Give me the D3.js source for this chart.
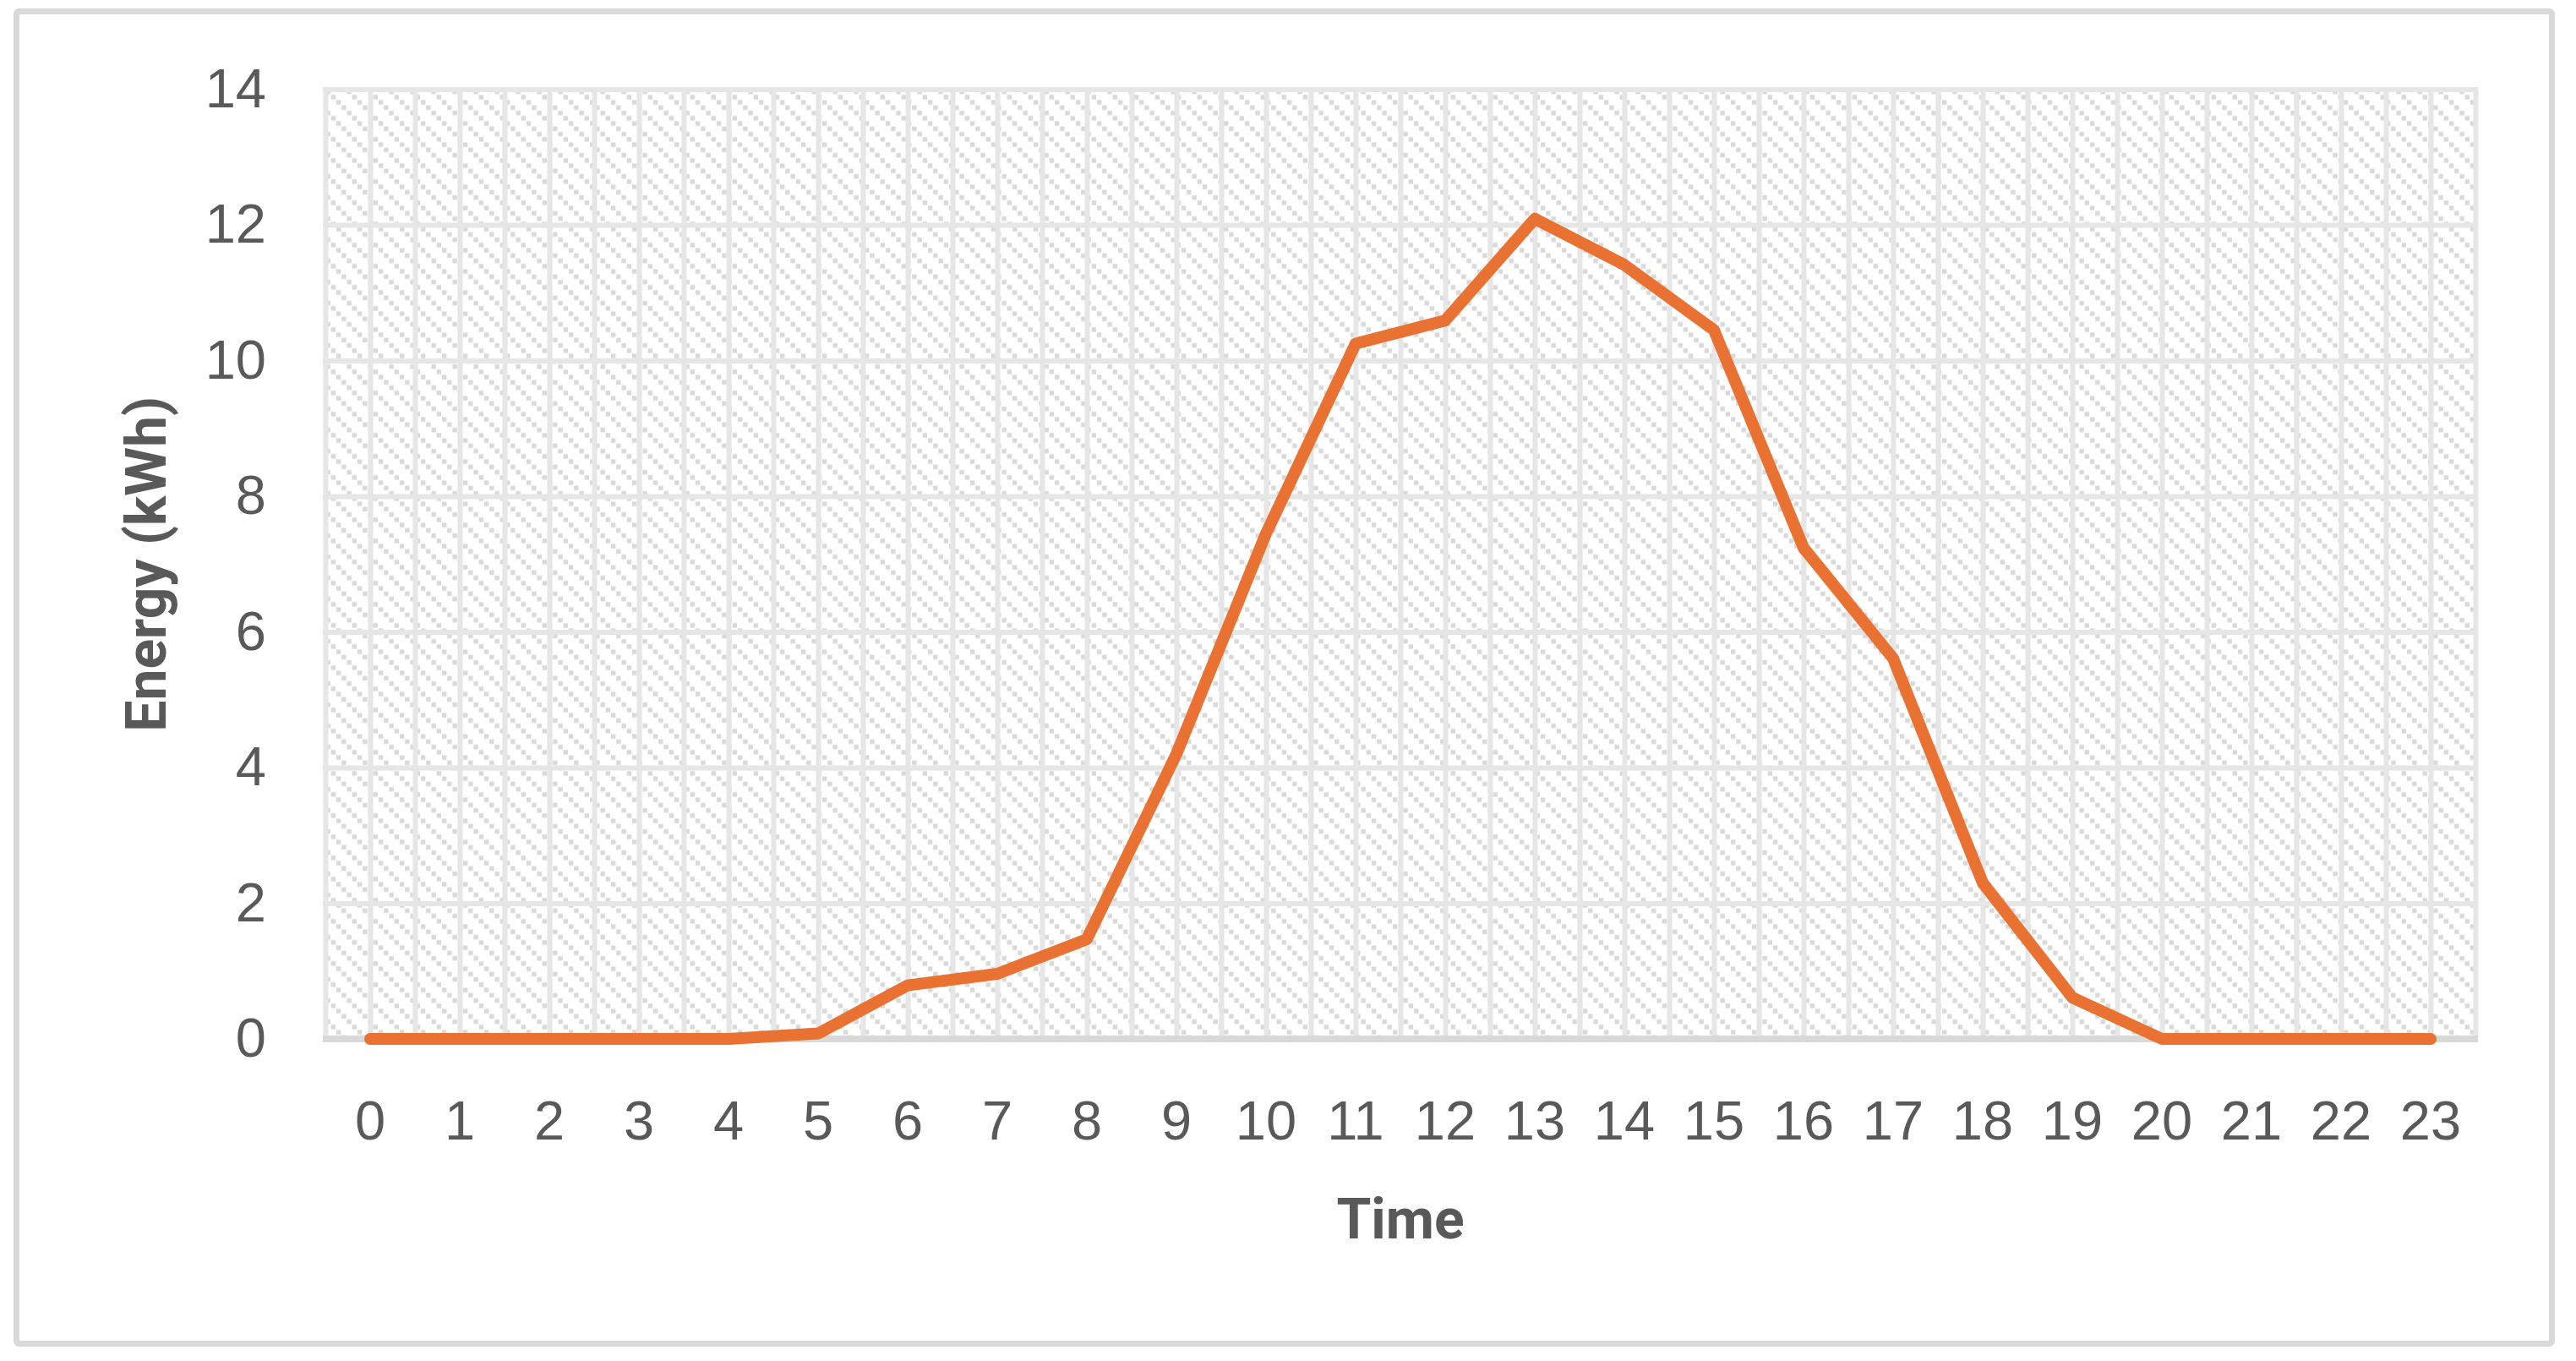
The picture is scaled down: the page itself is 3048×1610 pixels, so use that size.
<!DOCTYPE html>
<html>
<head>
<meta charset="utf-8">
<script src="https://cdn.jsdelivr.net/npm/d3@7"></script>
<style>
  html, body { margin: 0; padding: 0; background: #ffffff; }
  svg { display: block; }
</style>
</head>
<body>
<script>
// ---- data ----
const hours = ["0","1","2","3","4","5","6","7","8","9","10","11","12","13","14","15","16","17","18","19","20","21","22","23"];
const energy = [0, 0, 0, 0, 0, 0.08, 0.79, 0.96, 1.47, 4.2, 7.45, 10.25, 10.59, 12.09, 11.41, 10.45, 7.24, 5.61, 2.30, 0.61, 0, 0, 0, 0];
const yTicks = [0, 2, 4, 6, 8, 10, 12, 14];
const xTitle = "Time";
const yTitle = "Energy (kWh)";

// ---- layout ----
const W = 3048, H = 1610;
const plot = { left: 385, right: 2929, top: 105.5, bottom: 1229 };
const textColor = "#595959";

const svg = d3.select("body").append("svg")
  .attr("width", W).attr("height", H);

// hatch pattern
const defs = svg.append("defs");
const tile = 25, cell = tile / 4;
const pat = defs.append("pattern")
  .attr("id", "hatch").attr("patternUnits", "userSpaceOnUse")
  .attr("x", plot.left).attr("y", plot.top)
  .attr("width", tile).attr("height", tile);
pat.append("rect").attr("width", tile).attr("height", tile).attr("fill", "#ffffff");
pat.selectAll("rect.sq").data(d3.range(4)).join("rect")
  .attr("class", "sq")
  .attr("x", d => d * cell + 0.4).attr("y", d => d * cell + 0.4)
  .attr("width", cell - 0.8).attr("height", cell - 0.8)
  .attr("fill", "#d9d9d9");

// outer border
svg.append("rect")
  .attr("x", 19.5).attr("y", 13.5)
  .attr("width", 3019.5 - 19.5).attr("height", 1589.5 - 13.5)
  .attr("rx", 3)
  .attr("fill", "#ffffff").attr("stroke", "#d9d9d9").attr("stroke-width", 7);

// scales
const x = d3.scaleBand().domain(hours).range([plot.left, plot.right]).padding(0);
const xGrid = d3.scaleLinear().domain([-0.5, hours.length - 0.5]).range([plot.left, plot.right]);
const y = d3.scaleLinear().domain([0, 14]).range([plot.bottom, plot.top]);

// plot area fill
svg.append("rect")
  .attr("x", plot.left).attr("y", plot.top)
  .attr("width", plot.right - plot.left).attr("height", plot.bottom - plot.top)
  .attr("fill", "url(#hatch)");

// vertical gridlines (every half category)
const vGrid = d3.range(-0.5, hours.length - 0.5 + 0.01, 0.5);
svg.append("g")
  .attr("transform", `translate(0,${plot.bottom})`)
  .call(d3.axisBottom(xGrid).tickValues(vGrid).tickSize(-(plot.bottom - plot.top)).tickFormat(""))
  .call(g => g.select(".domain").remove())
  .call(g => g.selectAll(".tick line").attr("stroke", "#e6e6e6").attr("stroke-width", 6));

// horizontal gridlines
svg.append("g")
  .attr("transform", `translate(${plot.left},0)`)
  .call(d3.axisLeft(y).tickValues(yTicks.filter(v => v > 0)).tickSize(-(plot.right - plot.left)).tickFormat(""))
  .call(g => g.select(".domain").remove())
  .call(g => g.selectAll(".tick line").attr("stroke", "#e6e6e6").attr("stroke-width", 6)
      .attr("x1", -3).attr("x2", plot.right - plot.left + 3));

// x axis baseline
svg.append("line")
  .attr("x1", plot.left - 3).attr("x2", plot.right + 3)
  .attr("y1", y(0)).attr("y2", y(0))
  .attr("stroke", "#d9d9d9").attr("stroke-width", 8);

// y axis labels
svg.append("g")
  .attr("transform", `translate(${plot.left},0)`)
  .call(d3.axisLeft(y).tickValues(yTicks).tickSize(0).tickPadding(70).tickFormat(d3.format("d")))
  .call(g => g.select(".domain").remove())
  .call(g => g.selectAll("text")
      .attr("fill", textColor)
      .attr("font-family", "'Liberation Sans', Arial, sans-serif")
      .attr("font-size", 65));

// x axis labels
svg.append("g")
  .attr("transform", `translate(0,${plot.bottom})`)
  .call(d3.axisBottom(x).tickSize(0).tickPadding(73))
  .call(g => g.select(".domain").remove())
  .call(g => g.selectAll("text")
      .attr("fill", textColor)
      .attr("font-family", "'Liberation Sans', Arial, sans-serif")
      .attr("font-size", 65));

// line
const line = d3.line()
  .x((d, i) => x(hours[i]) + x.bandwidth() / 2)
  .y(d => y(d));
svg.append("path")
  .datum(energy)
  .attr("d", line)
  .attr("fill", "none")
  .attr("stroke", "#E97132")
  .attr("stroke-width", 14)
  .attr("stroke-linecap", "round")
  .attr("stroke-linejoin", "round");

// axis titles
svg.append("text")
  .attr("x", (plot.left + plot.right) / 2)
  .attr("y", 1465)
  .attr("text-anchor", "middle")
  .attr("fill", textColor)
  .attr("font-family", "Roboto, 'Liberation Sans', sans-serif")
  .attr("font-weight", "bold")
  .attr("font-size", 66)
  .text(xTitle);

svg.append("text")
  .attr("transform", `translate(196,${(plot.top + plot.bottom) / 2}) rotate(-90)`)
  .attr("text-anchor", "middle")
  .attr("fill", textColor)
  .attr("font-family", "Roboto, 'Liberation Sans', sans-serif")
  .attr("font-weight", "bold")
  .attr("font-size", 66)
  .text(yTitle);
</script>
</body>
</html>
